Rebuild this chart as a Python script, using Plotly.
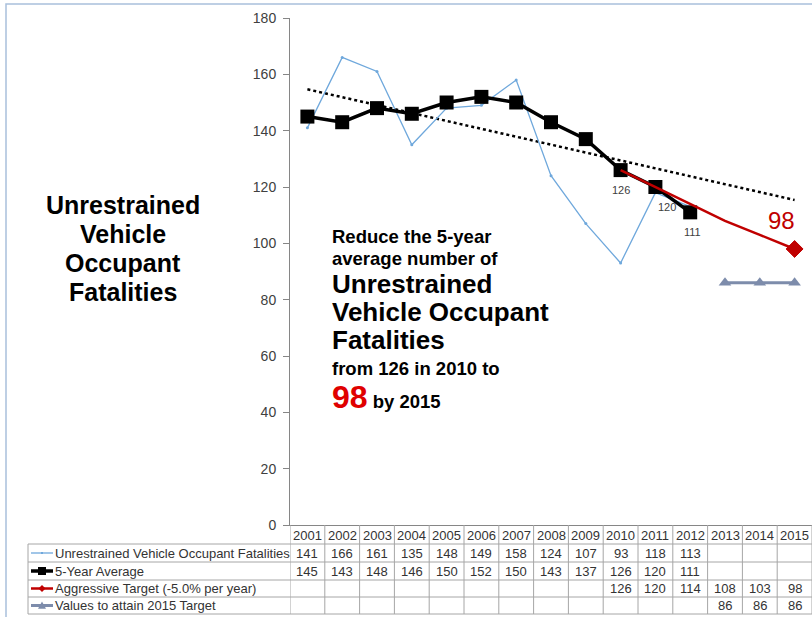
import numpy as np
import plotly.graph_objects as go

# ---- data -------------------------------------------------------------
years = [str(y) for y in range(2001, 2016)]
fatalities = [141, 166, 161, 135, 148, 149, 158, 124, 107, 93, 118, 113, None, None, None]
five_year_avg = [145, 143, 148, 146, 150, 152, 150, 143, 137, 126, 120, 111, None, None, None]
aggressive_target = [None] * 9 + [126, 120, 114, 108, 103, 98]
attain_values = [None] * 12 + [86, 86, 86]

series_names = [
    "Unrestrained Vehicle Occupant Fatalities",
    "5-Year Average",
    "Aggressive Target (-5.0% per year)",
    "Values to attain 2015 Target",
]
y_ticks = [0, 20, 40, 60, 80, 100, 120, 140, 160, 180]

# ---- styling ----------------------------------------------------------
FONT = "Arial, Liberation Sans, sans-serif"
C_BLUE = "#6FA8DC"
C_BLACK = "#000000"
C_RED = "#C00000"
C_SLATE = "#7D8CAB"
C_GRID = "#A6A6A6"
C_AXIS = "#868686"
C_TEXT = "#333333"

W, H = 812, 617
PL, PR, PT, PB = 290, 812, 18, 525   # plot area in pixels


def px(x):
    return (x - PL) / (PR - PL)


def py(y):
    return (PB - y) / (PB - PT)


idx = list(range(len(years)))

fig = go.Figure()

# linear trend of the 5-year average
known = [(i, v) for i, v in enumerate(five_year_avg) if v is not None]
k_x = np.array([k[0] for k in known], dtype=float)
k_y = np.array([k[1] for k in known], dtype=float)
slope, intercept = np.polyfit(k_x, k_y, 1)
trend = [slope * i + intercept for i in idx]

fig.add_trace(go.Scatter(x=idx, y=trend, mode="lines",
                         line=dict(color=C_BLACK, width=2.5, dash="dot"),
                         hoverinfo="skip"))

fig.add_trace(go.Scatter(x=idx, y=fatalities, mode="lines+markers",
                         line=dict(color=C_BLUE, width=1.3),
                         marker=dict(size=3, color=C_BLUE)))

fig.add_trace(go.Scatter(x=idx, y=five_year_avg, mode="lines+markers",
                         line=dict(color=C_BLACK, width=3.5),
                         marker=dict(symbol="square", size=14, color=C_BLACK)))

fig.add_trace(go.Scatter(x=idx, y=aggressive_target, mode="lines",
                         line=dict(color=C_RED, width=2.5)))
# end-point marker of the target line
fig.add_trace(go.Scatter(x=[idx[-1]], y=[aggressive_target[-1]], mode="markers",
                         marker=dict(symbol="diamond", size=13, color=C_RED,
                                     line=dict(width=1, color=C_RED))))

fig.add_trace(go.Scatter(x=idx, y=attain_values, mode="lines+markers",
                         line=dict(color=C_SLATE, width=3),
                         marker=dict(symbol="triangle-up", size=11, color=C_SLATE)))

annotations = []

# value labels under the last three averages
label_shift = {9: 0, 10: 12, 11: 2}
for i, dx in label_shift.items():
    annotations.append(dict(x=i, y=five_year_avg[i], xref="x", yref="y",
                            text=str(five_year_avg[i]), showarrow=False,
                            yshift=-20, xshift=dx,
                            font=dict(family=FONT, size=11, color="#404040")))

# end target label
annotations.append(dict(x=len(years) - 1, y=aggressive_target[-1], xref="x", yref="y",
                        text=str(aggressive_target[-1]), showarrow=False,
                        yshift=28, xshift=-13,
                        font=dict(family=FONT, size=24, color=C_RED)))

# left title
title_lines = ["Unrestrained", "Vehicle", "Occupant", "Fatalities"]
for k, t in enumerate(title_lines):
    annotations.append(dict(x=px(123), y=py(205 + 29 * k), xref="paper", yref="paper",
                            text=f"<b>{t}</b>", showarrow=False,
                            xanchor="center", yanchor="middle",
                            font=dict(family=FONT, size=25, color="#000000")))

# goal statement
goal = [
    ("Reduce the 5-year", 18.5, 236),
    ("average number of", 18.5, 258),
    ("Unrestrained", 26, 284),
    ("Vehicle Occupant", 26, 312),
    ("Fatalities", 26, 340),
    ("from 126 in 2010 to", 18.5, 368),
]
for t, s, yc in goal:
    annotations.append(dict(x=px(330), y=py(yc), xref="paper", yref="paper",
                            text=f"<b>{t}</b>", showarrow=False,
                            xanchor="left", yanchor="middle",
                            font=dict(family=FONT, size=s, color="#000000")))
annotations.append(dict(
    x=px(330), y=py(397), xref="paper", yref="paper",
    text=f"<b><span style='color:#E00000;font-size:32px'>{aggressive_target[-1]}</span> by 2015</b>",
    showarrow=False, xanchor="left", yanchor="middle",
    font=dict(family=FONT, size=18.5, color="#000000")))

# ---- data table under the axis ----------------------------------------
shapes = []
row_lines = [544, 562, 580, 597, 614]
for yl in row_lines:
    shapes.append(dict(type="line", xref="paper", yref="paper",
                       x0=px(28), x1=px(830), y0=py(yl), y1=py(yl),
                       line=dict(color=C_GRID, width=1)))
shapes.append(dict(type="line", xref="paper", yref="paper",
                   x0=px(28), x1=px(28), y0=py(544), y1=py(614),
                   line=dict(color=C_GRID, width=1)))
for i in range(len(years) + 1):
    shapes.append(dict(type="line", xref="x", yref="paper",
                       x0=i - 0.5, x1=i - 0.5, y0=0, y1=py(614),
                       line=dict(color=C_GRID, width=1)))

# outer frame
shapes.append(dict(type="rect", xref="paper", yref="paper",
                   x0=px(6), x1=px(840), y0=py(4), y1=py(660),
                   line=dict(color="#A9C0DC", width=1.5), fillcolor="rgba(0,0,0,0)"))

TBL = dict(family=FONT, size=13, color=C_TEXT)
year_row_y = 535
row_centers = [553, 571, 588.5, 605.5]
for i, yr in enumerate(years):
    annotations.append(dict(x=i, y=py(year_row_y), xref="x", yref="paper",
                            text=yr, showarrow=False, xanchor="center",
                            yanchor="middle", font=TBL))

table_rows = [fatalities, five_year_avg, aggressive_target, attain_values]
for r, vals in enumerate(table_rows):
    for i, v in enumerate(vals):
        if v is None:
            continue
        annotations.append(dict(x=i, y=py(row_centers[r]), xref="x", yref="paper",
                                text=str(v), showarrow=False, xanchor="center",
                                yanchor="middle", font=TBL))
    annotations.append(dict(x=px(53), y=py(row_centers[r]), xref="paper", yref="paper",
                            text=series_names[r], showarrow=False, xanchor="left",
                            yanchor="middle", font=TBL))

# legend keys in the table
key_styles = [
    (C_BLUE, 1.3, "dot", 2),
    (C_BLACK, 3.5, "square", 8),
    (C_RED, 2.5, "diamond", 7),
    (C_SLATE, 3, "triangle", 8),
]
for r, (col, lw, sym, ms) in enumerate(key_styles):
    yc = row_centers[r]
    shapes.append(dict(type="line", xref="paper", yref="paper",
                       x0=px(31), x1=px(53), y0=py(yc), y1=py(yc),
                       line=dict(color=col, width=lw)))
    cx = 42
    h = ms / 2
    if sym == "square" or sym == "dot":
        shapes.append(dict(type="rect", xref="paper", yref="paper",
                           x0=px(cx - h), x1=px(cx + h), y0=py(yc - h), y1=py(yc + h),
                           line=dict(width=0), fillcolor=col))
    elif sym == "diamond":
        path = (f"M {px(cx)},{py(yc - h)} L {px(cx + h)},{py(yc)} "
                f"L {px(cx)},{py(yc + h)} L {px(cx - h)},{py(yc)} Z")
        shapes.append(dict(type="path", xref="paper", yref="paper", path=path,
                           line=dict(width=0), fillcolor=col))
    else:
        path = (f"M {px(cx)},{py(yc - h)} L {px(cx + h)},{py(yc + h * 0.8)} "
                f"L {px(cx - h)},{py(yc + h * 0.8)} Z")
        shapes.append(dict(type="path", xref="paper", yref="paper", path=path,
                           line=dict(width=0), fillcolor=col))

fig.update_layout(
    width=W, height=H,
    margin=dict(l=PL, r=W - PR, t=PT, b=H - PB, pad=0),
    paper_bgcolor="white", plot_bgcolor="white",
    showlegend=False,
    font=dict(family=FONT, color=C_TEXT),
    xaxis=dict(range=[-0.5, len(years) - 0.5], showticklabels=False, ticks="",
               showgrid=False, zeroline=False, showline=True, linecolor=C_AXIS,
               linewidth=1, fixedrange=True),
    yaxis=dict(range=[0, 180], tickvals=y_ticks, ticks="outside", ticklen=6,
               tickcolor=C_AXIS, showgrid=False, zeroline=False, showline=True,
               linecolor=C_AXIS, linewidth=1, ticklabelstandoff=4,
               tickfont=dict(family=FONT, size=14, color="#404040")),
    shapes=shapes,
    annotations=annotations,
)

fig.write_html("out.html")
